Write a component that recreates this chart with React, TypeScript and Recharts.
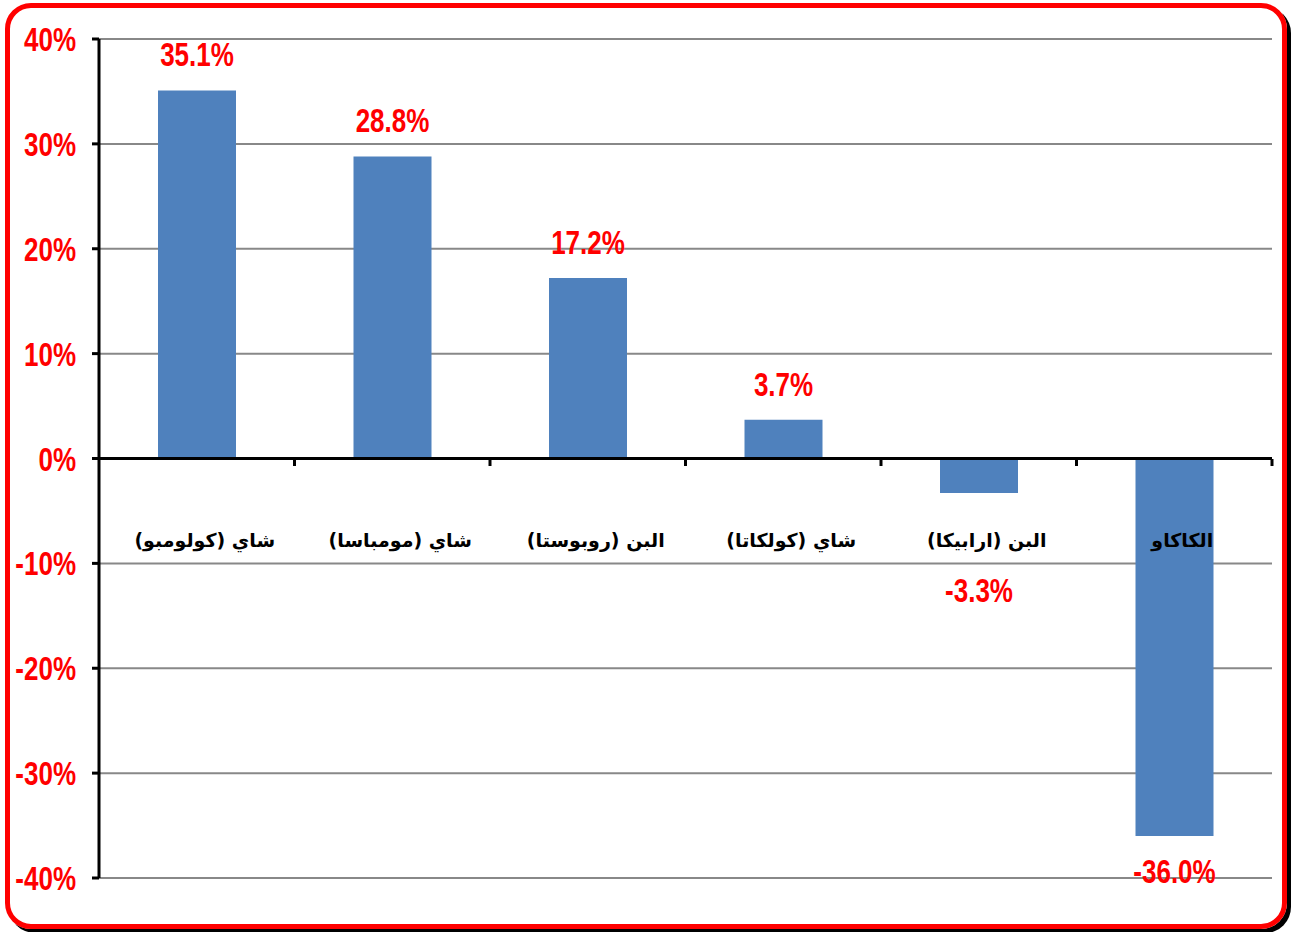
import React from 'react';
import { BarChart, Bar, XAxis, YAxis, CartesianGrid, ReferenceLine, LabelList } from 'recharts';

const categories = ['شاي (كولومبو)', 'شاي (مومباسا)', 'البن (روبوستا)', 'شاي (كولكاتا)', 'البن (ارابيكا)', 'الكاكاو'];
const changes = [0.351, 0.288, 0.172, 0.037, -0.033, -0.36];
const yTicks = [-0.4, -0.3, -0.2, -0.1, 0, 0.1, 0.2, 0.3, 0.4];

const data = categories.map((name, i) => ({ name, value: changes[i] }));

const W = 1293;
const H = 932;
const M = { top: 39, right: 21, bottom: 53, left: 9 };
const YW = 90;
const plotW = W - M.left - M.right - YW;
const plotH = H - M.top - M.bottom;
const zeroY = M.top + plotH / 2;
const band = plotW / categories.length;

const numFont = "'Liberation Sans', Arial, sans-serif";
const arFont = "'DejaVu Sans', 'Noto Sans', sans-serif";

const pct = (v: number) => `${Math.round(v * 100)}%`;

// red numbers in the source look like a narrow bold face, so stretch them up a bit
const RedText = ({ x, y, anchor, children }: any) => (
  <text
    x={0}
    y={0}
    transform={`translate(${x},${y}) scale(1,1.25)`}
    textAnchor={anchor}
    fontFamily={numFont}
    fontWeight="bold"
    fontSize={26}
    fill="#ff0000"
  >
    {children}
  </text>
);

const ValueTick = (props: any) => {
  const { x, y, payload } = props;
  return (
    <RedText x={x} y={y + 12} anchor="end">
      {pct(payload.value)}
    </RedText>
  );
};

const CatTick = (props: any) => {
  const { x, payload } = props;
  return (
    <g>
      <line x1={x + band / 2} x2={x + band / 2} y1={zeroY} y2={zeroY + 7} stroke="#000" strokeWidth={3} />
      <text x={x + 8} y={zeroY + 88} textAnchor="middle" fontFamily={arFont} fontWeight="bold" fontSize={19} fill="#000" direction="rtl">
        {payload.value}
      </text>
    </g>
  );
};

const ValueLabel = (props: any) => {
  const { x, y, width, height, value } = props;
  const top = Math.min(y, y + height);
  const bottom = Math.max(y, y + height);
  const cx = x + width / 2;
  const ty = value >= 0 ? top - 24 : Math.max(bottom + 47, zeroY + 143);
  return (
    <RedText x={cx} y={ty} anchor="middle">
      {(value * 100).toFixed(1)}%
    </RedText>
  );
};

export default function App() {
  return (
    <div style={{ position: 'absolute', left: 0, top: 0, width: W, height: H, background: '#fff' }}>
      <div
        style={{
          position: 'absolute',
          left: 5,
          top: 3,
          width: 1272,
          height: 916,
          border: '5px solid #ff0000',
          borderRadius: 26,
          boxShadow: '4px 4px 0 #000',
        }}
      />
      <div style={{ position: 'absolute', left: 0, top: 0 }}>
        <BarChart width={W} height={H} data={data} margin={M}>
          <CartesianGrid vertical={false} stroke="#888" strokeWidth={2} />
          <XAxis dataKey="name" axisLine={false} tickLine={false} height={1} interval={0} tick={<CatTick />} />
          <YAxis
            width={YW}
            domain={[-0.4, 0.4]}
            ticks={yTicks}
            axisLine={{ stroke: '#000', strokeWidth: 3 }}
            tickLine={{ stroke: '#000', strokeWidth: 3 }}
            tickSize={7}
            tickMargin={16}
            tick={<ValueTick />}
          />
          <ReferenceLine y={0} stroke="#000" strokeWidth={3} />
          <Bar dataKey="value" fill="#4f81bd" barSize={78} isAnimationActive={false}>
            <LabelList dataKey="value" content={<ValueLabel />} />
          </Bar>
        </BarChart>
      </div>
    </div>
  );
}
